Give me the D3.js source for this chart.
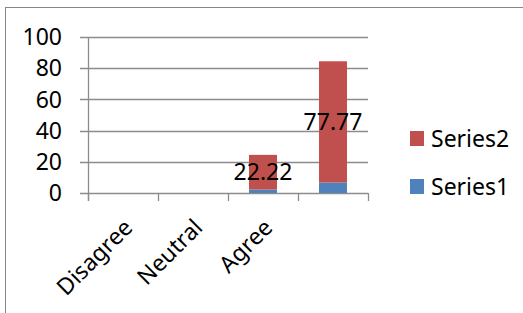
<!DOCTYPE html>
<html>
<head>
<meta charset="utf-8">
<script src="https://cdn.jsdelivr.net/npm/d3@7"></script>
<style>
  body { margin: 0; background: #fff; }
  text { font-family: "Noto Sans", "Open Sans", sans-serif; fill: #000; }
</style>
</head>
<body>
<svg id="chart" width="523" height="313"></svg>
<script>
// chart values
var categories = ["Disagree", "Neutral", "Agree", ""];
var series1 = [0, 0, 2.22, 6.67];
var series2 = [0, 0, 22.22, 77.77];
var yTicks = [0, 20, 40, 60, 80, 100];
var seriesNames = ["Series1", "Series2"];
var colors = { Series1: "#4F81BD", Series2: "#C0504D" };

var svg = d3.select("#chart");

// outer chart border (runs past the right/bottom edge like the original)
svg.append("rect")
    .attr("x", 5.5).attr("y", 7.5)
    .attr("width", 540).attr("height", 330)
    .attr("fill", "none")
    .attr("stroke", "#868686")
    .attr("stroke-width", 1);

var margin = { top: 37, left: 88 };
var pw = 280, ph = 156;

var g = svg.append("g")
    .attr("transform", "translate(" + margin.left + "," + margin.top + ")");

var x = d3.scaleBand().domain(d3.range(categories.length)).range([0, pw]).padding(0);
var y = d3.scaleLinear().domain([0, 100]).range([ph, 0]);

// gridlines + y ticks
g.selectAll(".grid")
    .data(yTicks)
    .enter().append("line")
    .attr("x1", -8).attr("x2", pw)
    .attr("y1", function(d) { return Math.round(y(d)) + 0.5; })
    .attr("y2", function(d) { return Math.round(y(d)) + 0.5; })
    .attr("stroke", "#8c8c8c")
    .attr("stroke-width", 1.3);

g.selectAll(".ylab")
    .data(yTicks)
    .enter().append("text")
    .attr("x", -26)
    .attr("y", function(d) { return y(d); })
    .attr("dy", "0.36em")
    .attr("text-anchor", "end")
    .style("font-size", "23px")
    .text(function(d) { return d; });

// y axis line
g.append("line")
    .attr("x1", 0.5).attr("x2", 0.5)
    .attr("y1", 0).attr("y2", ph + 8)
    .attr("stroke", "#8c8c8c").attr("stroke-width", 1.3);

// x ticks at band boundaries
var bounds = d3.range(categories.length + 1).map(function(i) { return i * x.bandwidth(); });
g.selectAll(".xtick")
    .data(bounds)
    .enter().append("line")
    .attr("x1", function(d) { return Math.round(d) + 0.5; })
    .attr("x2", function(d) { return Math.round(d) + 0.5; })
    .attr("y1", ph).attr("y2", ph + 8)
    .attr("stroke", "#8c8c8c").attr("stroke-width", 1.3);

// stacked bars
var rows = categories.map(function(c, i) {
    return { i: i, Series1: series1[i], Series2: series2[i] };
});
var stack = d3.stack().keys(seriesNames)(rows);
var barW = x.bandwidth() * 0.4;

stack.forEach(function(layer) {
    g.selectAll(".bar-" + layer.key)
        .data(layer.filter(function(d) { return d[1] - d[0] > 0; }))
        .enter().append("rect")
        .attr("x", function(d) { return x(d.data.i) + (x.bandwidth() - barW) / 2; })
        .attr("width", barW)
        .attr("y", function(d) { return y(d[1]); })
        .attr("height", function(d) { return y(d[0]) - y(d[1]); })
        .attr("fill", colors[layer.key]);
});

// data labels on Series2
var s2 = stack[1];
g.selectAll(".dlab")
    .data(s2.filter(function(d) { return d[1] - d[0] > 0; }))
    .enter().append("text")
    .attr("x", function(d) { return x(d.data.i) + x.bandwidth() / 2; })
    .attr("y", function(d) { return y((d[0] + d[1]) / 2); })
    .attr("dy", "0.36em")
    .attr("text-anchor", "middle")
    .style("font-size", "23px")
    .text(function(d) { return d.data.Series2.toFixed(2); });

// category labels, rotated
g.selectAll(".xlab")
    .data(categories)
    .enter().append("text")
    .attr("transform", function(d, i) {
        var cx = x(i) + x.bandwidth() / 2 + 11;
        return "translate(" + cx + "," + (ph + 36) + ") rotate(-45)";
    })
    .attr("text-anchor", "end")
    .style("font-size", "23px")
    .text(function(d) { return d; });

// legend (Series2 on top)
var legend = svg.append("g").attr("transform", "translate(410,131)");
var legItems = ["Series2", "Series1"];
legItems.forEach(function(name, i) {
    var row = legend.append("g").attr("transform", "translate(0," + (i * 48) + ")");
    row.append("rect").attr("width", 14).attr("height", 15).attr("fill", colors[name]);
    row.append("text")
        .attr("x", 21).attr("y", 7.5).attr("dy", "0.36em")
        .style("font-size", "23px")
        .text(name);
});
</script>
</body>
</html>
